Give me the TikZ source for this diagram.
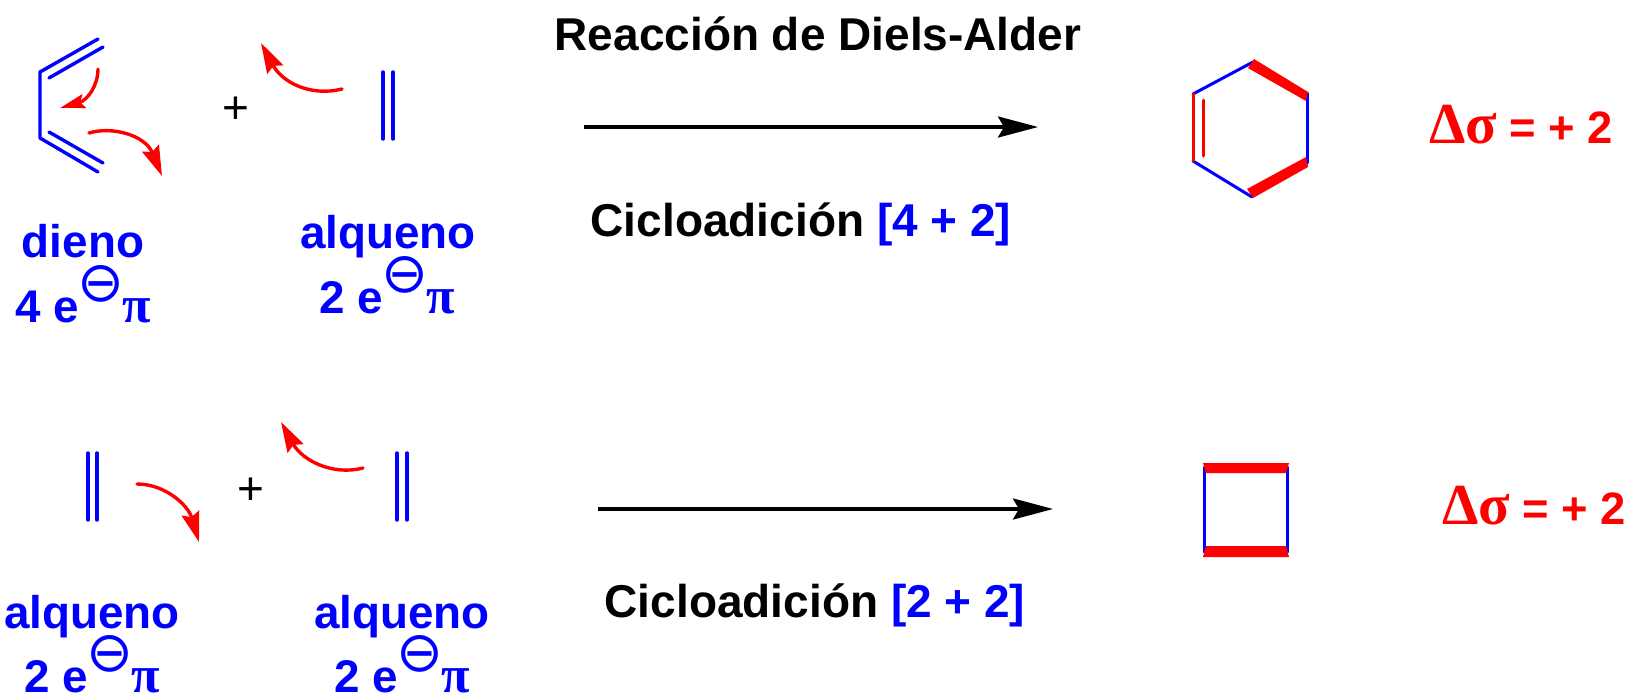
\documentclass[tikz,border=0pt]{standalone}
\usepackage{fontspec}
\usetikzlibrary{arrows.meta}
\setmainfont{Liberation Sans}
\newfontfamily\grkfont{Liberation Serif}[BoldFont={* Bold}]
\newfontfamily\djvfont{DejaVu Sans}
\definecolor{chemblue}{RGB}{0,0,255}
\definecolor{chemred}{RGB}{255,0,0}
\newcommand{\eminus}{e\kern-1pt\raisebox{10.5pt}{\djvfont\mdseries\fontsize{28}{28}\selectfont ⊖}\kern-1pt{\grkfont\bfseries\fontsize{26}{26}\selectfont π}}
\newcommand{\dsig}{{\grkfont\bfseries\fontsize{29}{29}\selectfont Δσ}}
\tikzset{
  bond/.style={draw=chemblue,line width=1.7pt,line cap=round},
  redbond/.style={draw=chemred,line width=1.5pt,line cap=round},
  boldbond/.style={fill=chemred,draw=none},
  curly/.style={draw=chemred,line width=1.7pt,line cap=round,-{Stealth[length=15pt,width=9pt,inset=2pt]}},
  curlysmall/.style={draw=chemred,line width=1.7pt,line cap=round,-{Stealth[length=12.5pt,width=7pt,inset=2pt]}},
  rxn/.style={draw=black,line width=1.7pt,-{Stealth[length=20pt,width=10.5pt,inset=3pt]}},
  lbl/.style={anchor=base,text=chemblue,font=\fontsize{22.9}{24}\selectfont\bfseries,inner sep=0pt},
  head/.style={anchor=base,text=black,font=\fontsize{23}{24}\selectfont\bfseries,inner sep=0pt},
  delta/.style={anchor=base,text=chemred,font=\fontsize{22.7}{24}\selectfont\bfseries,inner sep=0pt},
  plus/.style={text=black,font=\fontsize{23}{24}\selectfont,inner sep=0pt}
}
\begin{document}
\begin{tikzpicture}[x=0.5pt,y=-0.5pt]
\useasboundingbox (0,0) rectangle (1631,697);
% diene
\coordinate (d1) at (98,39); \coordinate (d2) at (40,72); \coordinate (d3) at (40,138); \coordinate (d4) at (98,172);
\coordinate (d5) at (103,47); \coordinate (d6) at (49,78); \coordinate (d7) at (49,132); \coordinate (d8) at (103,163);
\draw[bond,line join=round] (d1) -- (d2) -- (d3) -- (d4);
\draw[bond] (d5) -- (d6);
\draw[bond] (d7) -- (d8);
% curly arrows top
\coordinate (a1s) at (98,69); \coordinate (a1e) at (60,108);
\draw[curlysmall] (a1s) .. controls (98,85) and (88,100) .. (a1e);
\coordinate (a2s) at (89,133); \coordinate (a2e) at (162,176);
\draw[curly] (a2s) .. controls (112,126) and (145,135) .. (a2e);
\coordinate (a3s) at (342,89); \coordinate (a3e) at (261,43);
\draw[curly] (a3s) .. controls (310,97) and (282,82) .. (a3e);
% alkene top
\coordinate (e1a) at (383,72); \coordinate (e1b) at (383,139); \coordinate (e2a) at (393,72); \coordinate (e2b) at (393,139);
\draw[bond] (e1a) -- (e1b);
\draw[bond] (e2a) -- (e2b);
\node[plus] (p1) at (236,110) {+};
\node[lbl] (l1) at (83,257) {dieno};
\node[lbl] (l2) at (83,322) {4 \eminus};
\node[lbl] (l3) at (388,248) {alqueno};
\node[lbl] (l4) at (387,313) {2 \eminus};
% main arrow top
\coordinate (r1a) at (584,127); \coordinate (r1b) at (1038,127);
\draw[rxn] (r1a) -- (r1b);
\node[head] (t1) at (818,50) {Reacción de Diels-Alder};
\node[head] (t2) at (801,236) {Cicloadición \textcolor{chemblue}{[4 + 2]}};
% hexagon
\coordinate (h1) at (1253,62); \coordinate (h2) at (1307,93); \coordinate (h3) at (1307,163);
\coordinate (h4) at (1252,197); \coordinate (h5) at (1193,161); \coordinate (h6) at (1193,94);
\draw[bond,line width=1.5pt] (h6) -- (h1);
\draw[bond,line width=1.5pt] (h2) -- (h3);
\draw[bond,line width=1.5pt] (h4) -- (h5);
\fill[boldbond] (1254,59) -- (1308,92) -- (1306,101) -- (1248,68) -- cycle;
\fill[boldbond] (1306,157) -- (1308,167) -- (1253,198) -- (1247,189) -- cycle;
\draw[redbond] (h5) -- (h6);
\coordinate (h7) at (1203,100); \coordinate (h8) at (1203,156);
\draw[redbond] (h7) -- (h8);
\node[delta] (dl1) at (1521,143) {\dsig{} = + 2};
% second row
\coordinate (f1a) at (88,453); \coordinate (f1b) at (88,520); \coordinate (f2a) at (97,453); \coordinate (f2b) at (97,520);
\draw[bond] (f1a) -- (f1b);
\draw[bond] (f2a) -- (f2b);
\coordinate (g1a) at (397,453); \coordinate (g1b) at (397,520); \coordinate (g2a) at (407,453); \coordinate (g2b) at (407,520);
\draw[bond] (g1a) -- (g1b);
\draw[bond] (g2a) -- (g2b);
\coordinate (b1s) at (137,484); \coordinate (b1e) at (199,542);
\draw[curly] (b1s) .. controls (165,484) and (188,505) .. (b1e);
\coordinate (b2s) at (363,468); \coordinate (b2e) at (281,422);
\draw[curly] (b2s) .. controls (332,476) and (302,460) .. (b2e);
\node[plus] (p2) at (251,491) {+};
\node[lbl] (l5) at (92,628) {alqueno};
\node[lbl] (l6) at (92,692) {2 \eminus};
\node[lbl] (l7) at (402,628) {alqueno};
\node[lbl] (l8) at (402,692) {2 \eminus};
\coordinate (r2a) at (598,509); \coordinate (r2b) at (1053,509);
\draw[rxn] (r2a) -- (r2b);
\node[head] (t3) at (815,617) {Cicloadición \textcolor{chemblue}{[2 + 2]}};
% square
\coordinate (s1) at (1204,467); \coordinate (s2) at (1204,552); \coordinate (s3) at (1287,467); \coordinate (s4) at (1287,552);
\draw[bond,line width=1.5pt] (s1) -- (s2);
\draw[bond,line width=1.5pt] (s3) -- (s4);
\fill[boldbond] (1203,463) -- (1289,463) -- (1286,473) -- (1206,473) -- cycle;
\fill[boldbond] (1203,557) -- (1289,557) -- (1286,546) -- (1206,546) -- cycle;
\node[delta] (dl2) at (1534,524) {\dsig{} = + 2};
\end{tikzpicture}
\end{document}
